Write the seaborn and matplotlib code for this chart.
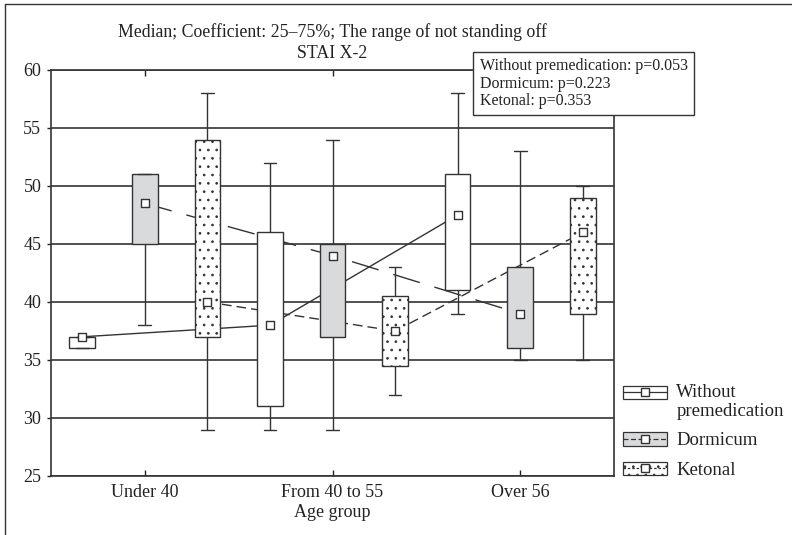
import numpy as np
import pandas as pd
import matplotlib
matplotlib.use("Agg")
import matplotlib.pyplot as plt
import seaborn as sns
from matplotlib.patches import Patch, Rectangle
from matplotlib.lines import Line2D
from matplotlib.legend_handler import HandlerTuple

groups = ["Under 40", "From 40 to 55", "Over 56"]
series = ["Without premedication", "Dormicum", "Ketonal"]

# five-number summaries: min, q1, median, q3, max
without_min = [36, 29, 39]
without_q1 = [36, 31, 41]
without_med = [37, 38, 47.5]
without_q3 = [37, 46, 51]
without_max = [37, 52, 58]

dorm_min = [38, 29, 35]
dorm_q1 = [45, 37, 36]
dorm_med = [48.5, 44, 39]
dorm_q3 = [51, 45, 43]
dorm_max = [51, 54, 53]

ket_min = [29, 32, 35]
ket_q1 = [37, 34.5, 39]
ket_med = [40, 37.5, 46]
ket_q3 = [54, 40.5, 49]
ket_max = [58, 43, 50]

p_text = "Without premedication: p=0.053\nDormicum: p=0.223\nKetonal: p=0.353"

summaries = {
    "Without premedication": [without_min, without_q1, without_med, without_q3, without_max],
    "Dormicum": [dorm_min, dorm_q1, dorm_med, dorm_q3, dorm_max],
    "Ketonal": [ket_min, ket_q1, ket_med, ket_q3, ket_max],
}

rows = []
med_rows = []
for name, stats in summaries.items():
    for i, g in enumerate(groups):
        for s in stats:
            rows.append({"group": g, "series": name, "value": s[i]})
        med_rows.append({"group": g, "series": name, "median": stats[2][i]})
df = pd.DataFrame(rows)
med = pd.DataFrame(med_rows)

INK = "#333333"
fills = {"Without premedication": "white", "Dormicum": "#d9dadc", "Ketonal": "white"}


class RaisedTuple(HandlerTuple):
    # legend handle lifted to line up with the first line of a two-line label
    def __init__(self, dy, **kw):
        super().__init__(**kw)
        self.dy = dy

    def create_artists(self, legend, orig_handle, xdescent, ydescent, width, height,
                       fontsize, trans):
        arts = super().create_artists(legend, orig_handle, xdescent, ydescent, width,
                                      height, fontsize, trans)
        off = self.dy * fontsize
        for a in arts:
            if isinstance(a, Rectangle):
                a.set_y(a.get_y() + off)
            elif isinstance(a, Line2D):
                a.set_ydata(np.asarray(a.get_ydata()) + off)
        return arts


sns.set_style("white")
plt.rcParams["font.family"] = ["Liberation Serif", "DejaVu Serif"]
plt.rcParams["hatch.color"] = "#666666"
plt.rcParams["hatch.linewidth"] = 0.7

fig = plt.figure(figsize=(7.92, 5.35), dpi=100)
ax = fig.add_axes([51 / 792, 1 - 476 / 535, (614 - 51) / 792, (476 - 70) / 535])

for name in series:
    n_before = len(ax.patches)
    sns.boxplot(
        data=df[df["series"] == name], x="group", y="value", hue="series",
        order=groups, hue_order=series, palette=fills, width=1.0, gap=0.59,
        dodge=True, whis=np.inf, linecolor=INK, linewidth=1.0, legend=False, ax=ax,
        medianprops={"visible": False},
    )
    if name == "Ketonal":
        for p in ax.patches[n_before:]:
            p.set_hatch("..")

# boxes and whiskers sit over the connecting lines
for p in ax.patches:
    p.set_zorder(3)
for ln in ax.lines:
    ln.set_zorder(3)

offsets = dict(zip(series, [-1 / 3, 0, 1 / 3]))
med["pos"] = med["group"].map(groups.index) + med["series"].map(offsets)

sns.lineplot(
    data=med, x="pos", y="median", hue="series", style="series",
    hue_order=series, style_order=series, palette=[INK] * 3,
    dashes={"Without premedication": "", "Dormicum": (20, 11), "Ketonal": (7, 3.6)},
    linewidth=1.0, legend=False, ax=ax, zorder=1.5,
)
sns.scatterplot(
    data=med, x="pos", y="median", marker="s", s=28, color="white",
    edgecolor=INK, linewidth=1.0, legend=False, ax=ax, zorder=5,
)

ax.set_xlim(-0.5, 2.5)
ax.set_ylim(25, 60)
ax.set_yticks(np.arange(25, 61, 5))
ax.set_xticks(range(len(groups)))
ax.set_xticklabels(groups)
ax.yaxis.grid(True, color=INK, linewidth=1.2, zorder=0.5)
ax.xaxis.grid(False)
ax.set_axisbelow(True)
for sp in ax.spines.values():
    sp.set_visible(True)
    sp.set_color(INK)
    sp.set_linewidth(1.2)
    sp.set_zorder(6)
ax.tick_params(axis="x", direction="in", length=4, width=1, top=True, bottom=True,
               labelsize=13, colors="#222222", pad=6)
ax.tick_params(axis="y", direction="out", length=3, width=1, left=True,
               labelsize=13, colors="#222222", pad=4)
ax.set_xlabel("Age group", fontsize=13, color="#222222", labelpad=2)
ax.set_ylabel("")
ax.set_title("Median; Coefficient: 25\u201375%; The range of not standing off\nSTAI X-2",
             fontsize=12.8, color="#222222", pad=8.5, linespacing=1.3)

fig.text(479.5 / 792, 1 - 58.5 / 535, p_text, ha="left", va="top", fontsize=11.5,
         color="#222222", linespacing=1.1,
         bbox=dict(boxstyle="square,pad=0.4", fc="white", ec=INK, lw=1.0))

dash_styles = {"Without premedication": "-", "Dormicum": (0, (4, 2)), "Ketonal": (0, (2, 1.5))}
handles = []
for name in series:
    patch = Patch(facecolor=fills[name], edgecolor=INK, linewidth=0.9,
                  hatch=".." if name == "Ketonal" else None)
    line = Line2D([], [], color=INK, linewidth=0.9, linestyle=dash_styles[name],
                  marker="s", markersize=5.5, markerfacecolor="white", markeredgecolor=INK)
    handles.append((patch, line))
labels = ["Without\npremedication", "Dormicum", "Ketonal"]
leg = fig.legend(handles, labels, loc="lower left", bbox_to_anchor=(623 / 792, 1 - 479 / 535),
                 frameon=False, fontsize=13.5, handlelength=2.35, handleheight=0.75,
                 handletextpad=0.5, labelspacing=0.65, borderpad=0, borderaxespad=0,
                 labelcolor="#222222",
                 handler_map={handles[0]: RaisedTuple(0.5, ndivide=1)})
leg.get_texts()[0].set_linespacing(1.15)

fig.add_artist(Line2D([5 / 792, 5 / 792], [0, 1 - 4 / 535], color=INK, lw=1.0))
fig.add_artist(Line2D([5 / 792, 1], [1 - 4 / 535, 1 - 4 / 535], color=INK, lw=1.0))

fig.savefig("out.png", dpi=100)
